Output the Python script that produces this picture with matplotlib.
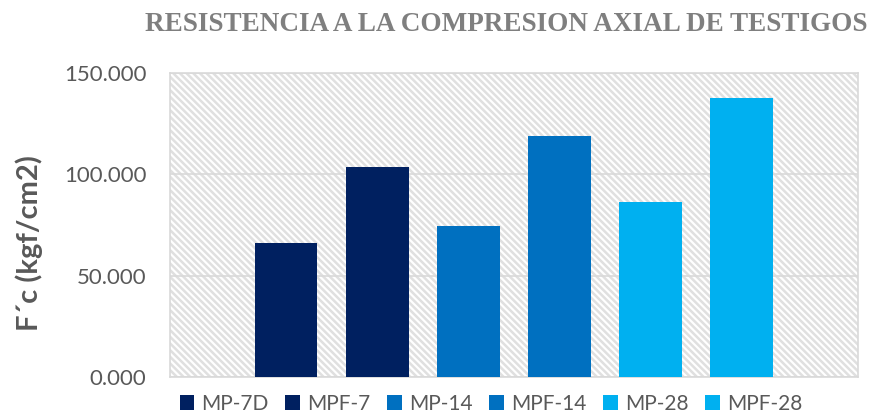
import matplotlib
matplotlib.use("Agg")
import matplotlib.pyplot as plt
from matplotlib.patches import Patch

# data
series = ["MP-7D", "MPF-7", "MP-14", "MPF-14", "MP-28", "MPF-28"]
values = [66.0, 103.6, 74.6, 118.8, 86.6, 137.8]
colors = ["#002060", "#002060", "#0070C0", "#0070C0", "#00B0F0", "#00B0F0"]
yticks = [0, 50, 100, 150]

text_gray = "#595959"
grid_gray = "#D9D9D9"

plt.rcParams["hatch.linewidth"] = 1.8

fig = plt.figure(figsize=(8.69, 4.13), dpi=100)
ax = fig.add_axes([0.1956, 0.0879, 0.7917, 0.7346])

# hatched plot-area background
ax.set_facecolor("white")
ax.add_patch(plt.Rectangle((0, 0), 1, 1, transform=ax.transAxes,
                           facecolor="white", edgecolor="#E0E0E0", linewidth=0,
                           hatch="\\" * 5, zorder=0))

x = list(range(len(series)))
ax.bar(x, values, width=0.69, color=colors, zorder=3)

ax.set_xlim(-1.273, len(series) - 1 + 1.273)
ax.set_ylim(0, 150)
ax.set_yticks(yticks)
ax.set_yticklabels([f"{v:.3f}" for v in yticks], fontsize=16,
                   color=text_gray, family="Lato")
ax.set_xticks([])
ax.tick_params(axis="y", length=0, pad=17)
ax.grid(axis="y", color=grid_gray, linewidth=1.2, zorder=1)
for s in ax.spines.values():
    s.set_color(grid_gray)
    s.set_linewidth(1.2)

ax.set_ylabel("F´c (kgf/cm2)", fontsize=21, fontweight="bold",
              color=text_gray, family="Lato")
ax.yaxis.set_label_coords(-0.185, 0.442)

fig.text(0.582, 0.94, "RESISTENCIA A LA COMPRESION AXIAL DE TESTIGOS",
         ha="center", va="center", fontsize=19.5, fontweight="bold",
         color="#7F7F7F", family="Liberation Serif")

handles = [Patch(facecolor=c, edgecolor="none") for c in colors]
leg = fig.legend(handles, series, loc="center", bbox_to_anchor=(0.565, 0.022),
                 ncol=6, frameon=False, handlelength=0.7,
                 handleheight=0.7, handletextpad=0.35, columnspacing=0.8,
                 prop={"family": "Lato", "size": 15})
for t in leg.get_texts():
    t.set_color(text_gray)

fig.savefig("out.png", dpi=100)
